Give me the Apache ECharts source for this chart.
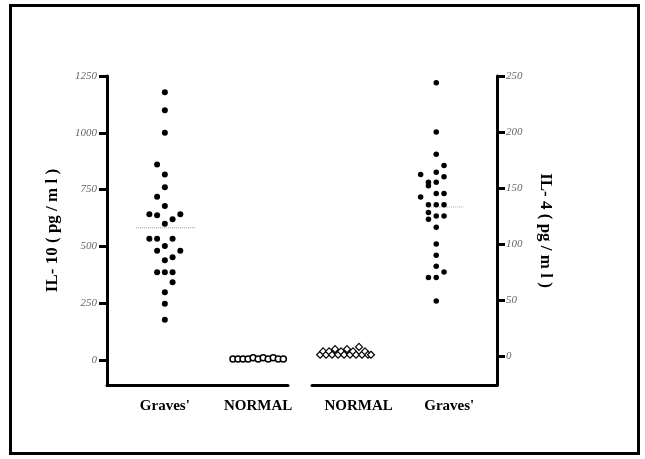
<!DOCTYPE html>
<html>
<head>
<meta charset="utf-8">
<script src="https://cdn.jsdelivr.net/npm/echarts@6/dist/echarts.min.js"></script>
<style>
  html, body { margin: 0; padding: 0; background: #fff; }
  #chart { width: 645px; height: 459px; }
</style>
</head>
<body>
<div id="chart"></div>
<script>
// categories for each half of the figure
const leftCats = ["Graves'", "NORMAL"];
const rightCats = ["NORMAL", "Graves'"];

// tick labels
const il10Ticks = [0, 250, 500, 750, 1000, 1250];
const il4Ticks = [0, 50, 100, 150, 200, 250];

// IL-10 (pg/ml), Graves' patients, with the column slot of each dot
const il10Graves = [1178, 1099, 1000, 860, 817, 760, 719, 678, 641, 637, 620, 641, 600,
  534, 534, 534, 502, 481, 481, 452, 439, 386, 386, 386, 342, 298, 248, 177];
const il10GravesSlot = [0, 0, 0, -1, 0, 0, -1, 0, -2, -1, 1, 2, 0,
  -2, -1, 1, 0, -1, 2, 1, 0, -1, 0, 1, 1, 0, 0, 0];

// IL-10, normal subjects
const il10Normal = [4, 4, 4, 4, 10, 4, 10, 4, 10, 4, 4];
const il10NormalSlot = [-5, -4, -3, -2, -1, 0, 1, 2, 3, 4, 5];

// IL-4 (pg/ml), normal subjects
const il4Normal = [1, 4, 1, 4, 1, 6, 1, 4, 1, 6, 1, 4, 1, 8, 1, 4, 1, 1];
const il4NormalSlot = [-8.5, -7.5, -6.5, -5.5, -4.5, -3.5, -2.5, -1.5, -0.5,
  0.5, 1.5, 2.5, 3.5, 4.5, 5.5, 6.5, 7.5, 8.5];

// IL-4, Graves' patients
const il4Graves = [244, 200, 180, 170, 164, 162, 160, 155, 152, 155, 145, 145, 142,
  135, 135, 135, 128, 122, 125, 125, 115, 100, 90, 80, 75, 70, 70, 49];
const il4GravesSlot = [0, 0, 0, 1, 0, -2, 1, -1, -1, 0, 0, 1, -2,
  -1, 0, 1, -1, -1, 0, 1, 0, 0, 0, 0, 1, -1, 0, 0];

// medians
const il10Median = 582;
const il4Median = 133;

function place(values, slots, col, step) {
  return values.map((v, i) => [col + slots[i] * step, v]);
}

const chart = echarts.init(document.getElementById("chart"));

const tickLabel = {
  fontFamily: "Liberation Serif",
  fontStyle: "italic",
  fontSize: 11,
  color: "#666",
  formatter: (v) => String(v),
};
const catLabel = {
  fontFamily: "Liberation Serif",
  fontWeight: "bold",
  fontSize: 15,
  color: "#000",
};
const nameLabel = {
  fontFamily: "Liberation Serif",
  fontWeight: "bold",
  fontSize: 17,
  color: "#000",
};
const axisLine = { show: true, onZero: false, lineStyle: { color: "#000", width: 3 } };

const option = {
  animation: false,
  backgroundColor: "#fff",
  graphic: [
    {
      type: "rect",
      shape: { x: 10.5, y: 5.5, width: 628, height: 448 },
      style: { fill: null, stroke: "#000", lineWidth: 3 },
    },
  ],
  grid: [
    { left: 107, top: 76, width: 181, height: 309, outerBoundsMode: "none" },
    { left: 312, top: 76, width: 185, height: 309, outerBoundsMode: "none" },
  ],
  xAxis: [
    {
      gridIndex: 0,
      type: "value",
      min: -0.62,
      max: 1.32,
      splitLine: { show: false },
      axisLine: axisLine,
      axisTick: { show: false },
      axisLabel: Object.assign({
        customValues: [0, 1],
        margin: 14,
        formatter: (v) => leftCats[Math.round(v)],
      }, catLabel),
    },
    {
      gridIndex: 1,
      type: "value",
      min: -0.37,
      max: 1.67,
      splitLine: { show: false },
      axisLine: axisLine,
      axisTick: { show: false },
      axisLabel: Object.assign({
        customValues: [0, 1],
        margin: 14,
        padding: [0, 0, 0, 26],
        formatter: (v) => rightCats[Math.round(v)],
      }, catLabel),
    },
  ],
  yAxis: [
    {
      gridIndex: 0,
      type: "value",
      position: "left",
      min: -110,
      max: 1250,
      splitLine: { show: false },
      axisLine: axisLine,
      axisTick: { show: true, customValues: il10Ticks, length: 8, lineStyle: { color: "#000", width: 3 } },
      axisLabel: Object.assign({ customValues: il10Ticks, margin: 10 }, tickLabel),
      name: "IL- 10 ( pg / m l )",
      nameLocation: "middle",
      nameGap: 46,
      nameTextStyle: nameLabel,
    },
    {
      gridIndex: 1,
      type: "value",
      position: "right",
      min: -26,
      max: 250,
      splitLine: { show: false },
      axisLine: axisLine,
      axisTick: { show: true, customValues: il4Ticks, length: 8, lineStyle: { color: "#000", width: 3 } },
      axisLabel: Object.assign({ customValues: il4Ticks, margin: 9 }, tickLabel),
      name: "IL- 4 ( pg / m l )",
      nameLocation: "middle",
      nameRotate: -90,
      nameGap: 40,
      nameTextStyle: nameLabel,
    },
  ],
  series: [
    {
      type: "line",
      xAxisIndex: 0,
      yAxisIndex: 0,
      data: [[-0.31, il10Median], [0.33, il10Median]],
      symbol: "none",
      lineStyle: { color: "#999", width: 1, type: "dotted" },
      z: 1,
    },
    {
      type: "scatter",
      xAxisIndex: 0,
      yAxisIndex: 0,
      data: place(il10Graves, il10GravesSlot, 0, 0.083),
      symbol: "circle",
      symbolSize: 6,
      itemStyle: { color: "#000", opacity: 1 },
      z: 3,
    },
    {
      type: "scatter",
      xAxisIndex: 0,
      yAxisIndex: 0,
      data: place(il10Normal, il10NormalSlot, 1, 0.054),
      symbol: "circle",
      symbolSize: 6,
      itemStyle: { color: "#fff", borderColor: "#000", borderWidth: 1.5, opacity: 1 },
      z: 3,
    },
    {
      type: "line",
      xAxisIndex: 1,
      yAxisIndex: 1,
      data: [[0.9, il4Median], [1.3, il4Median]],
      symbol: "none",
      lineStyle: { color: "#aaa", width: 1, type: "dotted" },
      z: 1,
    },
    {
      type: "scatter",
      xAxisIndex: 1,
      yAxisIndex: 1,
      data: place(il4Normal, il4NormalSlot, 0, 0.033),
      symbol: "diamond",
      symbolSize: 7,
      itemStyle: { color: "#fff", borderColor: "#000", borderWidth: 1.2, opacity: 1 },
      z: 3,
    },
    {
      type: "scatter",
      xAxisIndex: 1,
      yAxisIndex: 1,
      data: place(il4Graves, il4GravesSlot, 1, 0.086),
      symbol: "circle",
      symbolSize: 5.5,
      itemStyle: { color: "#000", opacity: 1 },
      z: 3,
    },
  ],
};

chart.setOption(option);
</script>
</body>
</html>
